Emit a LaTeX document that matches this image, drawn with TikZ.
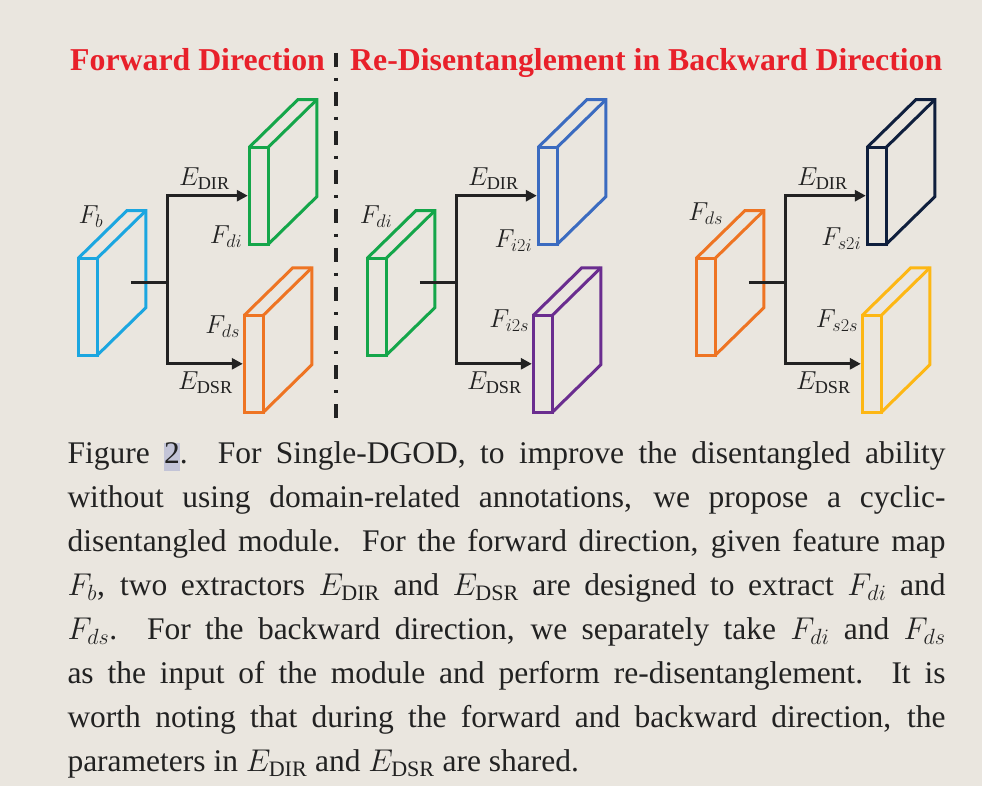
\RequirePackage{fix-cm}
\documentclass[tikz,border=0pt]{standalone}
\usepackage{fontspec}
\setmainfont{Liberation Serif}
\usepackage{tikz}
\usetikzlibrary{arrows.meta, positioning, calc}
\definecolor{paper}{HTML}{EAE6DF}
\definecolor{ink}{HTML}{222222}
\definecolor{titlered}{HTML}{E8202A}
\definecolor{hilite}{HTML}{C3C4D7}
\definecolor{fbblue}{HTML}{1BA6E0}
\definecolor{digreen}{HTML}{14A64A}
\definecolor{dsorange}{HTML}{EE7423}
\definecolor{iiblue}{HTML}{3B6BC0}
\definecolor{ispurple}{HTML}{6A2D8F}
\definecolor{sinavy}{HTML}{0F1F3D}
\definecolor{ssyellow}{HTML}{FDB714}
\tikzset{
  slab/.style      = {rectangle, draw=#1, line width=3pt, minimum width=19pt,
                      minimum height=97pt, inner sep=0pt, outer sep=0pt},
  slabside/.style  = {draw=#1, line width=3pt, line join=miter},
  stub/.style      = {draw=ink, line width=3pt},
  flow/.style      = {draw=ink, line width=3pt, shorten >=1.5pt,
                      -{Triangle[length=11pt, width=11pt]}},
  mlab/.style      = {font=\fontsize{26}{30}\selectfont, text=ink, inner sep=0pt},
  headline/.style  = {font=\fontsize{31.8}{36}\selectfont\bfseries, text=titlered,
                      inner sep=0pt},
  divider/.style   = {draw=ink, line width=3.5pt,
                      dash pattern=on 14pt off 11pt on 3pt off 11pt},
  captext/.style   = {text width=878pt, align=justify, inner sep=0pt, text=ink,
                      font=\fontsize{31.5}{44}\selectfont},
}
% top and side faces of a feature map, drawn behind its front face
\newcommand{\slabdepth}[2]{%
  \draw[slabside=#2] (#1.north west) -- ++(48.5,-47.5) -- ++(19,0) -- ++(0,97)
    -- (#1.south east);
  \draw[slabside=#2] (#1.north east) -- ++(48.5,-47.5);
}
\newcommand{\hlmark}[1]{{\setlength{\fboxsep}{0pt}\colorbox{hilite}{\rule[-7pt]{0pt}{26pt}#1}}}

\begin{document}
\begin{tikzpicture}[x=1pt, y=-1pt]
  \path[use as bounding box, fill=paper] (0,0) rectangle (982,786);
  % ---- headings
  \node[headline, anchor=base west] (fwdtitle) at (70,71) {Forward Direction};
  \node[headline, anchor=base west] (bwdtitle) at (350,71)
    {Re-Disentanglement in Backward Direction};
  \coordinate (divtop) at (336,53);
  \coordinate (divbot) at (336,418);
  \draw[divider] (divtop) -- (divbot);
  % ---- forward direction
  \begin{scope}
    \node[slab=fbblue] (fb) at (87.8,306.7) {};
    \node[slab=digreen] (fdi) at (258.8,195.7) {};
    \node[slab=dsorange] (fds) at (253.8,363.8) {};
    \slabdepth{fb}{fbblue}
    \slabdepth{fdi}{digreen}
    \slabdepth{fds}{dsorange}
    \coordinate (fbout) at ($(fb.center)+(43,-24)$);
    \coordinate (fbsplit) at ($(fb.center)+(80,-24)$);
    \draw[stub] (fbout) -- (fbsplit);
    \draw[flow] (fbsplit) |- (fdi.west);
    \draw[flow] (fbsplit) |- (fds.west);
    \node[mlab, anchor=base east] (fblab) at ($(fb.north west)+(25,-35)$) {$F_b$};
    \node[mlab, anchor=base west] (dir1) at ($(fbsplit |- fdi.west)+(11,-10)$) {$E_{\mathrm{DIR}}$};
    \node[mlab, anchor=base west] (dsr1) at ($(fbsplit |- fds.west)+(10,26)$) {$E_{\mathrm{DSR}}$};
    \node[mlab, anchor=base east] (fdilab) at ($(fdi.south west)+(-7,-1)$) {$F_{di}$};
    \node[mlab, anchor=base east] (fdslab) at ($(fds.north west)+(-4,18)$) {$F_{ds}$};
  \end{scope}
  % ---- backward, from F_di
  \begin{scope}[xshift=289pt]
    \node[slab=digreen] (fdiin) at (87.8,306.7) {};
    \node[slab=iiblue] (fi2i) at (258.8,195.7) {};
    \node[slab=ispurple] (fi2s) at (253.8,363.8) {};
    \slabdepth{fdiin}{digreen}
    \slabdepth{fi2i}{iiblue}
    \slabdepth{fi2s}{ispurple}
    \coordinate (fdiout) at ($(fdiin.center)+(43,-24)$);
    \coordinate (fdisplit) at ($(fdiin.center)+(80,-24)$);
    \draw[stub] (fdiout) -- (fdisplit);
    \draw[flow] (fdisplit) |- (fi2i.west);
    \draw[flow] (fdisplit) |- (fi2s.west);
    \node[mlab, anchor=base east] (fdiinlab) at ($(fdiin.north west)+(25,-35)$) {$F_{di}$};
    \node[mlab, anchor=base west] (dir2) at ($(fdisplit |- fi2i.west)+(11,-10)$) {$E_{\mathrm{DIR}}$};
    \node[mlab, anchor=base west] (dsr2) at ($(fdisplit |- fi2s.west)+(10,26)$) {$E_{\mathrm{DSR}}$};
    \node[mlab, anchor=base east] (fi2ilab) at ($(fi2i.south west)+(-6,3)$) {$F_{i2i}$};
    \node[mlab, anchor=base east] (fi2slab) at ($(fi2s.north west)+(-4,12)$) {$F_{i2s}$};
  \end{scope}
  % ---- backward, from F_ds
  \begin{scope}[xshift=618pt]
    \node[slab=dsorange] (fdsin) at (87.8,306.7) {};
    \node[slab=sinavy] (fs2i) at (258.8,195.7) {};
    \node[slab=ssyellow] (fs2s) at (253.8,363.8) {};
    \slabdepth{fdsin}{dsorange}
    \slabdepth{fs2i}{sinavy}
    \slabdepth{fs2s}{ssyellow}
    \coordinate (fdsout) at ($(fdsin.center)+(43,-24)$);
    \coordinate (fdssplit) at ($(fdsin.center)+(80,-24)$);
    \draw[stub] (fdsout) -- (fdssplit);
    \draw[flow] (fdssplit) |- (fs2i.west);
    \draw[flow] (fdssplit) |- (fs2s.west);
    \node[mlab, anchor=base east] (fdsinlab) at ($(fdsin.north west)+(27,-38)$) {$F_{ds}$};
    \node[mlab, anchor=base west] (dir3) at ($(fdssplit |- fs2i.west)+(11,-10)$) {$E_{\mathrm{DIR}}$};
    \node[mlab, anchor=base west] (dsr3) at ($(fdssplit |- fs2s.west)+(10,26)$) {$E_{\mathrm{DSR}}$};
    \node[mlab, anchor=base east] (fs2ilab) at ($(fs2i.south west)+(-6,1)$) {$F_{s2i}$};
    \node[mlab, anchor=base east] (fs2slab) at ($(fs2s.north west)+(-4,12)$) {$F_{s2s}$};
  \end{scope}
  % ---- caption
  \node[captext, anchor=base west] (caption) at (67.3,463.7)
    {Figure \hlmark{2}. For Single-DGOD, to improve the disentangled ability\linebreak
     without using domain-related annotations, we propose a cyclic-\linebreak
     disentangled module. For the forward direction, given feature map\linebreak
     $F_b$, two extractors $E_{\mathrm{DIR}}$ and $E_{\mathrm{DSR}}$ are designed to extract $F_{di}$ and\linebreak
     $F_{ds}$. For the backward direction, we separately take $F_{di}$ and $F_{ds}$\linebreak
     as the input of the module and perform re-disentanglement. It is\linebreak
     worth noting that during the forward and backward direction, the\linebreak
     parameters in $E_{\mathrm{DIR}}$ and $E_{\mathrm{DSR}}$ are shared.};
\end{tikzpicture}
\end{document}
